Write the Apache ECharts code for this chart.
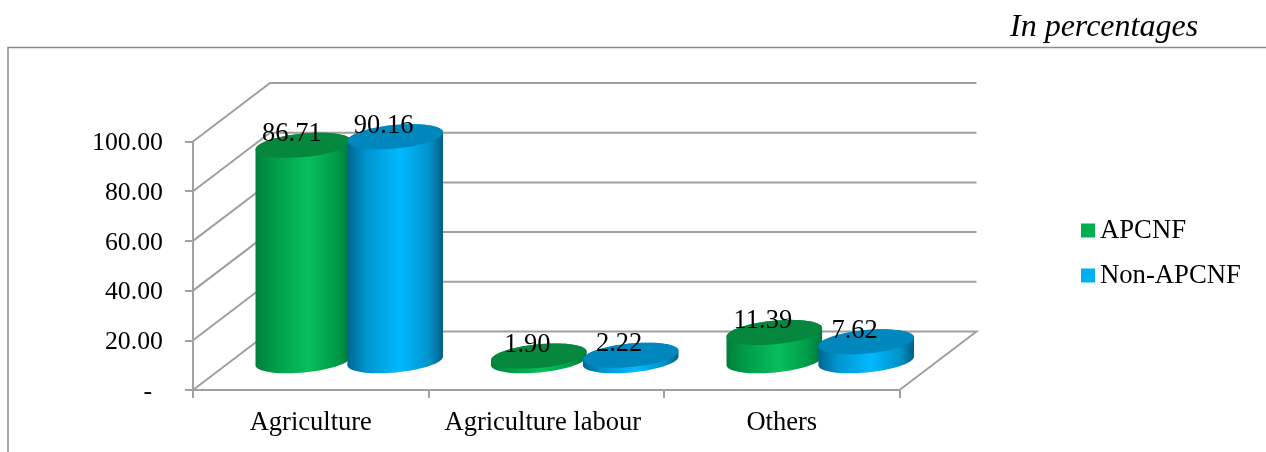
<!DOCTYPE html>
<html>
<head>
<meta charset="utf-8">
<style>
  html, body { margin: 0; padding: 0; background: #fff; }
  #chart { width: 1266px; height: 452px; }
</style>
<script src="https://cdn.jsdelivr.net/npm/echarts@6/dist/echarts.min.js"></script>
</head>
<body>
<div id="chart"></div>
<script>
var categories = ['Agriculture', 'Agriculture labour', 'Others'];
var apcnf = [86.71, 1.90, 11.39];
var nonApcnf = [90.16, 2.22, 7.62];
var yTicks = [0, 20, 40, 60, 80, 100];

var FONT = '"Liberation Serif", "Times New Roman", serif';
var LINE = '#a0a0a0';
// pseudo 3d box: back wall sits this far from the axis plane
var DEPTH_X = 77;
var DEPTH_Y = -58.5;

var green = { legend: '#00b050', top: '#05873d', stops: ['#007f3b', '#009c49', '#07bf5b', '#009a48', '#00773a'] };
var blue = { legend: '#00b0f0', top: '#0087bd', stops: ['#00668f', '#0095cf', '#00b9ff', '#0094cc', '#005f85'] };

function ellipsePoints(cx, cy, a, b, t0, t1) {
    var tilt = 5.5 * Math.PI / 180;
    var pts = [];
    for (var i = 0; i <= 40; i++) {
        var t = t0 + (t1 - t0) * i / 40;
        pts.push([
            cx + a * Math.cos(t) * Math.cos(tilt) + b * Math.sin(t) * Math.sin(tilt),
            cy - a * Math.cos(t) * Math.sin(tilt) + b * Math.sin(t) * Math.cos(tilt)
        ]);
    }
    return pts;
}

function cylinder(side, colors) {
    return function (params, api) {
        var base = api.coord([api.value(0), 0]);
        var top = api.coord([api.value(0), api.value(1)]);
        var catW = api.size([1, 0])[0];
        var cx = base[0] + DEPTH_X / 2 + side * catW * 0.195;
        var by = base[1] + DEPTH_Y / 2;
        var ty = top[1] + DEPTH_Y / 2;
        var a = catW * 0.204;
        var b = a * 0.245;
        var body = ellipsePoints(cx, by, a, b, 0, Math.PI)
            .concat(ellipsePoints(cx, ty, a, b, Math.PI, Math.PI * 2));
        return {
            type: 'group',
            children: [
                {
                    type: 'polygon',
                    shape: { points: body },
                    style: {
                        fill: {
                            type: 'linear', x: 0, y: 0, x2: 1, y2: 0,
                            colorStops: [
                                { offset: 0, color: colors.stops[0] },
                                { offset: 0.2, color: colors.stops[1] },
                                { offset: 0.55, color: colors.stops[2] },
                                { offset: 0.85, color: colors.stops[3] },
                                { offset: 1, color: colors.stops[4] }
                            ]
                        }
                    }
                },
                {
                    type: 'polygon',
                    shape: { points: ellipsePoints(cx, ty, a, b, 0, Math.PI * 2) },
                    style: { fill: colors.top }
                },
                {
                    type: 'text',
                    style: {
                        text: api.value(1).toFixed(2),
                        x: cx - 11.5,
                        y: ty - 11,
                        align: 'center',
                        verticalAlign: 'middle',
                        fontFamily: FONT,
                        fontSize: 26.5,
                        fill: '#000'
                    }
                }
            ]
        };
    };
}

// back wall and side wall lines, one per y tick
function wallLine(params, api) {
    var cs = params.coordSys;
    var y = api.coord([0, api.value(0)])[1];
    var x0 = cs.x;
    var x1 = cs.x + cs.width;
    var pts = [[x0, y], [x0 + DEPTH_X, y + DEPTH_Y], [x1 + DEPTH_X, y + DEPTH_Y]];
    if (api.value(0) === 0) {
        pts.push([x1, y]);
    }
    return {
        type: 'polyline',
        shape: { points: pts },
        style: { stroke: LINE, lineWidth: 2, fill: null }
    };
}

function pairs(values) {
    return values.map(function (v, i) { return [i, v]; });
}

var chart = echarts.init(document.getElementById('chart'));
var option = {
    animation: false,
    backgroundColor: '#fff',
    textStyle: { fontFamily: FONT, color: '#000' },
    title: {
        text: 'In percentages',
        left: 1010,
        top: 12,
        padding: 0,
        textStyle: { fontFamily: FONT, fontSize: 32, fontStyle: 'italic', fontWeight: 'normal', color: '#000' }
    },
    legend: {
        data: ['APCNF', 'Non-APCNF'],
        orient: 'vertical',
        left: 1081,
        top: 217,
        padding: 0,
        icon: 'rect',
        itemWidth: 14,
        itemHeight: 14,
        itemGap: 18,
        selectedMode: false,
        textStyle: { fontFamily: FONT, fontSize: 26.7, color: '#000' }
    },
    grid: { left: 193, top: 141.5, width: 706.5, height: 248.5 },
    xAxis: {
        type: 'category',
        data: categories.map(function (c, i) {
            // middle label sits a little left of its slot in the original
            return i === 1 ? { value: c, textStyle: { padding: [0, 7, 0, 0] } } : c;
        }),
        axisLine: { lineStyle: { color: LINE, width: 2 } },
        axisTick: { show: true, interval: 0, length: 8, lineStyle: { color: LINE, width: 2 } },
        axisLabel: { interval: 0, hideOverlap: false, margin: 20, fontFamily: FONT, fontSize: 26.5, color: '#000' }
    },
    yAxis: {
        type: 'value',
        min: 0,
        max: 100,
        interval: 20,
        splitLine: { show: false },
        axisLine: { show: true, lineStyle: { color: LINE, width: 2 } },
        axisTick: { show: true, length: 8, lineStyle: { color: LINE, width: 2 } },
        axisLabel: {
            margin: 30,
            fontFamily: FONT,
            fontSize: 25.8,
            color: '#000',
            padding: [4, 0, 0, 0],
            formatter: function (v) {
                return v === 0 ? '{dash|-}' : v.toFixed(2);
            },
            rich: { dash: { fontFamily: FONT, fontSize: 25.8, padding: [0, 11, 0, 0] } }
        }
    },
    graphic: [{
        type: 'polyline',
        silent: true,
        shape: { points: [[8, 452], [8, 47.5], [1266, 47.5]] },
        style: { stroke: '#8c8c8c', lineWidth: 1.5, fill: null }
    }],
    series: [
        {
            name: 'walls',
            type: 'custom',
            silent: true,
            z: 1,
            encode: { y: 0 },
            renderItem: wallLine,
            data: yTicks
        },
        {
            name: 'APCNF',
            type: 'custom',
            z: 3,
            itemStyle: { color: green.legend },
            encode: { x: 0, y: 1 },
            renderItem: cylinder(-1, green),
            data: pairs(apcnf)
        },
        {
            name: 'Non-APCNF',
            type: 'custom',
            z: 4,
            itemStyle: { color: blue.legend },
            encode: { x: 0, y: 1 },
            renderItem: cylinder(1, blue),
            data: pairs(nonApcnf)
        }
    ]
};
chart.setOption(option);
</script>
</body>
</html>
